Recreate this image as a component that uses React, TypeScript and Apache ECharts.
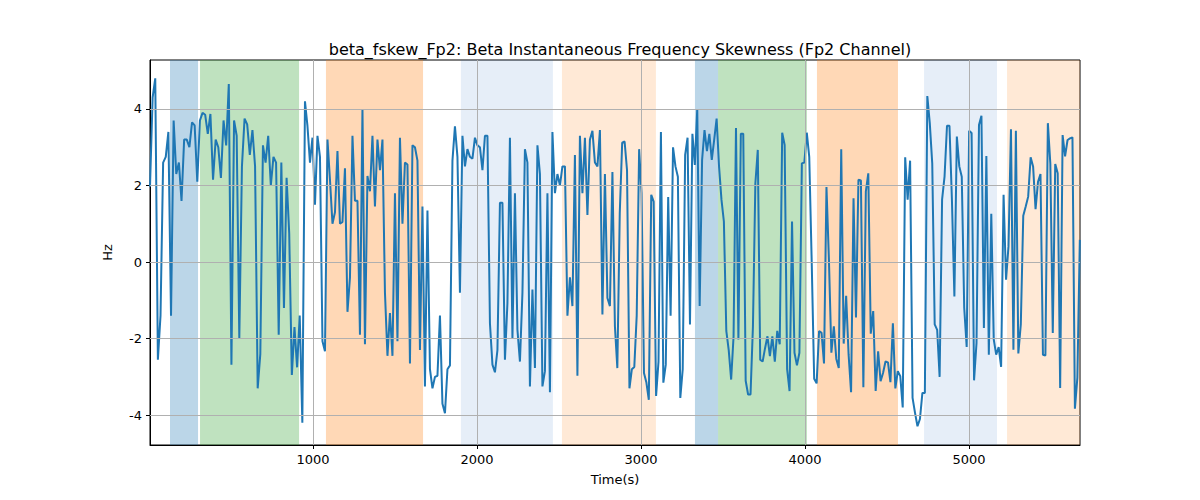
import React, { useEffect, useRef } from "react";
import * as echarts from "echarts";

const segStarts = [6, 951, 1896, 2841, 3786, 4731];
const segSpan = 945;
const seg1 = [1.97,4.3,4.8,-2.55,-1.4,2.6,2.75,3.4,-1.4,3.7,2.3,2.6,1.6,3.2,3.2,3.0,3.65,3.57,2.1,3.7,3.9,3.85,3.35,3.87,2.15,3.2,3.0,2.2,3.7,3.05,4.65,-2.68,3.7,3.3,-2.0,2.5,3.75,3.6,2.8,3.45,2.5,-3.3,-2.4,3.05,2.6,3.3,2.0,2.75,2.6,-1.9,2.6,-1.2,2.2,0.75,-2.95,-1.7,-2.75,-1.4,-4.2];
const seg2 = [4.2,3.55,2.6,3.25,1.5,3.3,2.75,-2.07,-2.33,3.2,2.15,1.0,1.3,2.9,1.0,1.05,2.45,-1.3,-0.4,3.3,1.6,1.6,-1.9,4.0,-2.15,2.25,1.85,3.3,1.45,3.2,2.4,3.2,-0.8,-2.45,-1.33,-2.45,1.8,-2.07,3.25,1.0,2.6,2.55,-2.65,3.05,3.0,2.65,-2.3,1.45,-3.25,1.35,-2.8,-3.3,-3.0,-2.97,-1.4,-3.7,-3.95,-2.8,-2.7,2.65,3.55,2.75];
const seg3 = [-0.8,3.3,2.5,2.95,2.75,2.7,3.25,3.05,3.0,2.4,3.3,3.3,-1.6,-2.68,-2.88,-2.3,1.55,1.55,-2.55,-1.07,3.25,-2.0,1.8,-1.77,-2.6,-0.8,2.95,2.6,-3.25,-0.72,-2.77,3.05,2.3,-3.25,-2.85,1.8,-3.4,3.4,1.8,2.3,2.0,2.5,2.5,-1.4,-0.4,-1.15,2.8,-2.97,3.3,1.8,3.25,1.23,3.2,3.43,2.6,2.5,3.45,-1.37,2.3,-0.94,-1.15,2.35];
const seg4 = [-1.68,-2.77,1.28,3.12,3.15,2.4,-3.3,-2.8,-2.74,-1.4,2.95,1.8,-2.9,-3.15,-3.6,1.76,1.58,-3.5,-2.6,3.4,-3.15,-2.68,1.7,-1.4,3.0,2.5,2.23,-3.55,-2.8,2.8,3.25,-1.63,3.35,2.54,4.0,-1.15,2.67,3.45,2.9,3.35,2.67,3.2,3.75,2.5,1.63,1.06,-1.8,-2.3,-3.07,-1.94,3.5,-2.02,3.35,3.35,-3.1,-3.46,-3.46,-1.68,2.06,2.93,-2.55,-2.6,-2.25,-1.94];
const seg5 = [-2.46,-1.94,-2.6,-1.8,-2.15,3.38,3.06,-2.8,-3.37,1.06,-2.37,-2.7,-2.37,2.58,2.6,3.38,2.75,0,-3.05,-3.17,-1.8,-1.85,-2.65,1.96,0.06,-2.37,-1.68,-2.53,-2.77,2.95,-2.13,-0.88,-2.42,-3.4,1.67,-1.45,2.15,2.13,-3.27,1.84,2.32,-1.87,-1.28,-3.37,-2.33,-3.11,-2.9,-2.6,-2.62,-3.14,-1.6,-3.3,-2.85,-2.98,-3.8,2.74,1.63,2.65,-3.55,-3.94,-4.29,-4.1,-3.42];
const seg6 = [-3.42,4.34,3.63,2.58,-1.63,-1.77,-3.0,1.63,2.23,3.56,3.56,1.63,-0.9,3.28,2.5,2.23,-1.2,-2.22,3.43,3.37,-3.09,-2.11,3.58,3.82,-1.72,2.77,-2.42,1.26,-2.02,-2.42,-2.22,-2.74,1.76,-0.46,0.41,3.47,-2.29,3.43,-2.39,-1.63,1.21,1.45,1.71,2.74,2.5,1.38,2.1,2.3,-2.42,-2.44,3.63,2.58,-1.85,2.56,2.32,-3.29,3.32,2.76,3.19,3.23,3.26,-3.83,-3.02,0.58];
const segments = [seg1, seg2, seg3, seg4, seg5, seg6];

const spans: [number, number, string][] = [
  [128, 299, "rgba(31,119,180,0.3)"],
  [311, 915, "rgba(44,160,44,0.3)"],
  [1079, 1671, "rgba(255,127,14,0.3)"],
  [1902, 2463, "rgba(31,100,190,0.11)"],
  [2518, 3091, "rgba(255,127,14,0.17)"],
  [3329, 3470, "rgba(31,119,180,0.3)"],
  [3470, 4012, "rgba(44,160,44,0.3)"],
  [4073, 4567, "rgba(255,127,14,0.3)"],
  [4726, 5171, "rgba(31,100,190,0.11)"],
  [5232, 5677, "rgba(255,127,14,0.17)"],
];
const xTicks = [1000, 2000, 3000, 4000, 5000];
const yTicks = [-4, -2, 0, 2, 4];

export default function App() {
  const ref = useRef<HTMLDivElement>(null);
  useEffect(() => {
    const chart = echarts.init(ref.current!, null, { renderer: "svg" });
    const data: [number, number][] = [];
    segments.forEach((s, k) => {
      s.forEach((v, i) => {
        const t = segStarts[k] + (i * segSpan) / (s.length - (k === 5 ? 1 : 0));
        data.push([t, v]);
      });
    });
    const font = "DejaVu Sans";
    chart.setOption({
      animation: false,
      textStyle: { fontFamily: font },
      title: {
        text: "beta_fskew_Fp2: Beta Instantaneous Frequency Skewness (Fp2 Channel)",
        left: 615, top: 36, textAlign: "center",
        textStyle: { fontFamily: font, fontSize: 16, fontWeight: "normal", color: "#000" },
      },
      grid: { left: 150, right: 120, top: 60, bottom: 55, show: true, borderColor: "#000", borderWidth: 1, backgroundColor: "transparent" },
      xAxis: {
        type: "value", min: 6, max: 5677,
        name: "Time(s)", nameLocation: "middle", nameGap: 28,
        nameTextStyle: { fontFamily: font, fontSize: 13, color: "#000" },
        axisLine: { onZero: false, lineStyle: { color: "#000" } },
        axisTick: { customValues: xTicks, lineStyle: { color: "#000" }, length: 4 },
        axisLabel: { customValues: xTicks, color: "#000", fontSize: 13, fontFamily: font, formatter: (v: number) => String(v) },
        splitLine: { show: false },
      },
      yAxis: {
        type: "value", min: -4.78, max: 5.28,
        name: "Hz", nameLocation: "middle", nameGap: 36,
        nameTextStyle: { fontFamily: font, fontSize: 13, color: "#000" },
        axisLine: { show: true, lineStyle: { color: "#000" } },
        axisTick: { show: true, customValues: yTicks, lineStyle: { color: "#000" }, length: 4 },
        axisLabel: { customValues: yTicks, color: "#000", fontSize: 13, fontFamily: font, formatter: (v: number) => String(v) },
        splitLine: { show: false },
      },
      series: [
        {
          type: "line", data, showSymbol: false, z: 3,
          lineStyle: { color: "#1f77b4", width: 2 },
          markArea: {
            silent: true,
            data: spans.map(([a, b, c]) => [
              { xAxis: a, itemStyle: { color: c } },
              { xAxis: b },
            ]),
          },
          markLine: {
            silent: true, symbol: "none", label: { show: false },
            lineStyle: { color: "#b0b0b0", width: 1, type: "solid" },
            data: [
              ...xTicks.map((x) => ({ xAxis: x })),
              ...yTicks.map((y) => ({ yAxis: y })),
            ],
          },
        },
      ],
    });
    return () => chart.dispose();
  }, []);
  return <div ref={ref} style={{ width: 1200, height: 500, margin: -8 }} />;
}
